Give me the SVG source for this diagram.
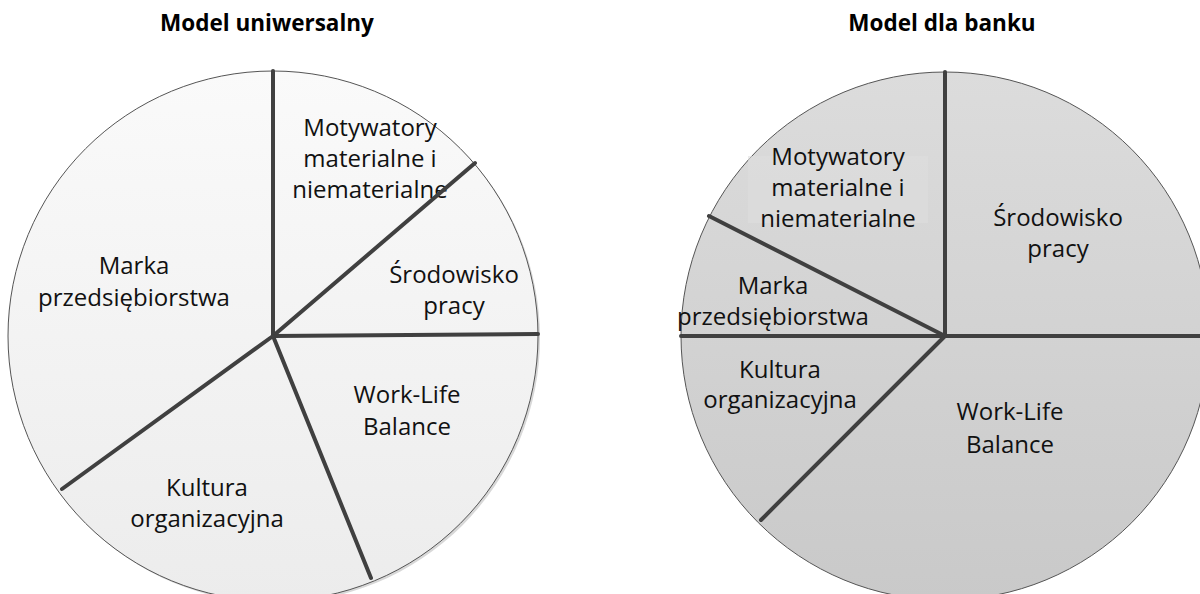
<svg xmlns="http://www.w3.org/2000/svg" width="1200" height="594" viewBox="0 0 1200 594">
<style>
.title{font-family:"Open Sans","Liberation Sans",sans-serif;font-weight:bold;font-size:22.5px;fill:#000;text-anchor:middle}
.lbl{font-family:"Open Sans","Liberation Sans",sans-serif;font-size:24px;fill:#111;text-anchor:middle}
.div{stroke:#404040;stroke-width:4;stroke-linecap:round;fill:none}
.rim{stroke:#555;stroke-width:1}
</style>
<defs>
<linearGradient id="gL" x1="0" y1="0" x2="0" y2="1"><stop offset="0" stop-color="#fafafa"/><stop offset="1" stop-color="#ececec"/></linearGradient>
<linearGradient id="gR" x1="0" y1="0" x2="0" y2="1"><stop offset="0" stop-color="#dcdcdc"/><stop offset="1" stop-color="#c9c9c9"/></linearGradient>
</defs>
<rect width="1200" height="594" fill="#fff"/>
<text class="title" x="267" y="31">Model uniwersalny</text>
<text class="title" x="942" y="31">Model dla banku</text>
<g id="pie-universal">
<circle cx="275" cy="338" r="265" fill="#d8d8d8"/>
<circle cx="273" cy="336" r="265" fill="url(#gL)" class="rim"/>
<text class="lbl"><tspan x="370" y="136">Motywatory</tspan><tspan x="370" y="167">materialne i</tspan><tspan x="370" y="198">niematerialne</tspan></text>
<text class="lbl"><tspan x="134" y="274">Marka</tspan><tspan x="134" y="306">przedsiębiorstwa</tspan></text>
<text class="lbl"><tspan x="454" y="283">Środowisko</tspan><tspan x="454" y="314">pracy</tspan></text>
<text class="lbl"><tspan x="407" y="403">Work-Life</tspan><tspan x="407" y="435">Balance</tspan></text>
<text class="lbl"><tspan x="207" y="496">Kultura</tspan><tspan x="207" y="527">organizacyjna</tspan></text>
</g>
<g id="pie-bank">
<circle cx="945" cy="336" r="264" fill="url(#gR)" class="rim"/>
<rect x="748" y="156" width="180" height="67" fill="#dedede" opacity="0.6"/>
<text class="lbl"><tspan x="838" y="165">Motywatory</tspan><tspan x="838" y="196">materialne i</tspan><tspan x="838" y="227">niematerialne</tspan></text>
<text class="lbl"><tspan x="1058" y="226">Środowisko</tspan><tspan x="1058" y="257">pracy</tspan></text>
<text class="lbl"><tspan x="773" y="294">Marka</tspan><tspan x="773" y="325">przedsiębiorstwa</tspan></text>
<text class="lbl"><tspan x="780" y="378">Kultura</tspan><tspan x="780" y="408">organizacyjna</tspan></text>
<text class="lbl"><tspan x="1010" y="420">Work-Life</tspan><tspan x="1010" y="453">Balance</tspan></text>
</g>
<g id="connectors">
<line class="div" x1="273" y1="336" x2="273" y2="71"/>
<line class="div" x1="273" y1="336" x2="475" y2="163"/>
<line class="div" x1="273" y1="336" x2="538" y2="334"/>
<line class="div" x1="273" y1="336" x2="371" y2="578"/>
<line class="div" x1="273" y1="336" x2="62" y2="489"/>
<line class="div" x1="945" y1="336" x2="945" y2="72"/>
<line class="div" x1="945" y1="336" x2="1205" y2="336"/>
<line class="div" x1="945" y1="336" x2="681" y2="336"/>
<line class="div" x1="945" y1="336" x2="709" y2="216"/>
<line class="div" x1="945" y1="336" x2="761" y2="520"/>
</g>
</svg>
